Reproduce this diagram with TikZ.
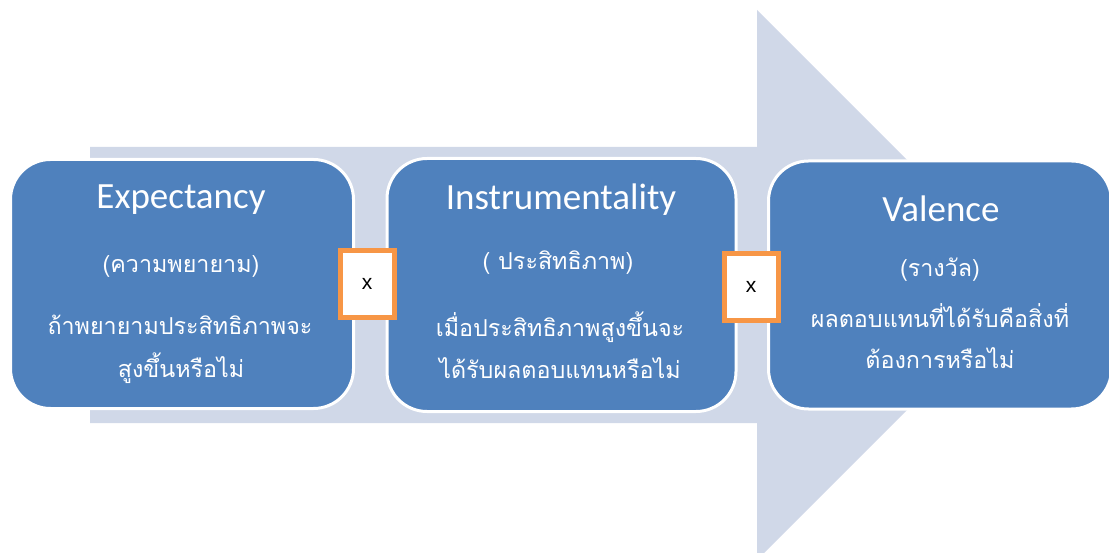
\documentclass[tikz,border=0pt]{standalone}
\usepackage{fontspec}
\setmainfont{Carlito}
\newfontfamily\thaifont[Script=Thai]{Loma}
\newfontfamily\timesfont{Liberation Sans}
\definecolor{arrowbg}{RGB}{208,216,232}
\definecolor{stageblue}{RGB}{79,129,189}
\definecolor{timesorange}{RGB}{247,150,70}
\tikzset{
	stagebox/.style={draw=white, line width=3pt, fill=stageblue, rounded corners=40pt},
	timesbox/.style={draw=timesorange, line width=5pt, fill=white, minimum width=54pt, minimum height=67pt, font=\timesfont\fontsize{21}{24}\selectfont},
	stagetitle/.style={text=white, font=\fontsize{37}{44}\selectfont},
	thaitext/.style={text=white, font=\thaifont\fontsize{23.3}{28}\selectfont}
}
\begin{document}
\begin{tikzpicture}[x=1pt, y=-1pt]
				\useasboundingbox (0,0) rectangle (1109,553);
				%background arrow
				\fill[arrowbg] (90,147) -- (757,147) -- (757,10) -- (1032,285) -- (757,560) -- (757,423) -- (90,423) -- cycle;
				%stages
				\node[stagebox, minimum width=343pt, minimum height=249pt] (expectancy) at (182,284) {};
				\node[stagebox, minimum width=349pt, minimum height=253pt] (instrumentality) at (561.5,285) {};
				\node[stagebox, minimum width=343pt, minimum height=248pt] (valence) at (940,285) {};
				%texts stage 1
				\node[stagetitle] (t1) at (181,200) {Expectancy};
				\node[thaitext] (a1) at (181,266) {(ความพยายาม)};
				\node[thaitext] (b1) at (180,325) {ถ้าพยายามประสิทธิภาพจะ};
				\node[thaitext] (c1) at (181,368) {สูงขึ้นหรือไม่};
				%texts stage 2
				\node[stagetitle] (t2) at (561,200) {Instrumentality};
				\node[thaitext] (a2) at (558,263) {( ประสิทธิภาพ)};
				\node[thaitext] (b2) at (560,327) {เมื่อประสิทธิภาพสูงขึ้นจะ};
				\node[thaitext] (c2) at (560,368) {ได้รับผลตอบแทนหรือไม่};
				%texts stage 3
				\node[stagetitle] (t3) at (941,209) {Valence};
				\node[thaitext] (a3) at (940,270) {(รางวัล)};
				\node[thaitext] (b3) at (940,316) {ผลตอบแทนที่ได้รับคือสิ่งที่};
				\node[thaitext] (c3) at (940,358) {ต้องการหรือไม่};
				%multiply signs
				\foreach \name/\x/\y in {times1/367/284, times2/751/287} {
					\node[timesbox] (\name) at (\x,\y) {x};
				}
\end{tikzpicture}
\end{document}
